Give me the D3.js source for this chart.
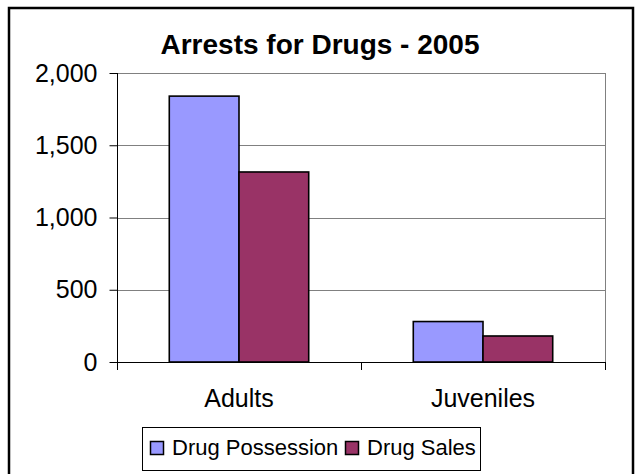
<!DOCTYPE html>
<html>
<head>
<meta charset="utf-8">
<script src="https://cdn.jsdelivr.net/npm/d3@7"></script>
<style>
  html, body { margin: 0; padding: 0; background: #fff; }
  svg { display: block; font-family: "Liberation Sans", Arial, sans-serif; }
</style>
</head>
<body>
<svg id="chart" width="635" height="474"></svg>
<script>
const title = "Arrests for Drugs - 2005";
const categories = ["Adults", "Juveniles"];
const seriesNames = ["Drug Possession", "Drug Sales"];
const possession = [1840, 280];
const sales = [1315, 180];
const yTicks = [0, 500, 1000, 1500, 2000];
const colors = ["#9999FF", "#993366"];

const seriesValues = [possession, sales];

const svg = d3.select("#chart");

// outer frame
svg.append("rect")
  .attr("x", 9).attr("y", 8).attr("width", 624).attr("height", 480)
  .attr("fill", "#fff").attr("stroke", "#000").attr("stroke-width", 2.5);

const plot = { left: 117, right: 605, top: 73, bottom: 362 };

const y = d3.scaleLinear().domain([0, 2000]).range([plot.bottom, plot.top]);
const x0 = d3.scaleBand().domain(categories).range([plot.left, plot.right]).padding(0);
const x1 = d3.scaleBand().domain(seriesNames).range([0, x0.bandwidth()])
  .paddingInner(0).paddingOuter(0.75);

// gridlines
svg.append("g").selectAll("line").data(yTicks.filter(t => t > 0)).join("line")
  .attr("x1", plot.left).attr("x2", plot.right)
  .attr("y1", d => Math.round(y(d)) + 0.5).attr("y2", d => Math.round(y(d)) + 0.5)
  .attr("stroke", "#808080").attr("stroke-width", 1);

// plot area right border
svg.append("line")
  .attr("x1", plot.right + 0.5).attr("x2", plot.right + 0.5)
  .attr("y1", plot.top).attr("y2", plot.bottom)
  .attr("stroke", "#808080").attr("stroke-width", 1);

// bars
const groups = svg.append("g").selectAll("g").data(categories).join("g")
  .attr("transform", d => `translate(${x0(d)},0)`);
groups.selectAll("rect")
  .data((c, i) => seriesNames.map((s, j) => ({ s, j, v: seriesValues[j][i] })))
  .join("rect")
  .attr("x", d => x1(d.s))
  .attr("width", x1.bandwidth())
  .attr("y", d => y(d.v))
  .attr("height", d => y(0) - y(d.v))
  .attr("fill", d => colors[d.j])
  .attr("stroke", "#000").attr("stroke-width", 1.6);

// y axis
const yAxis = d3.axisLeft(y).tickValues(yTicks).tickSize(8).tickPadding(12)
  .tickFormat(d3.format(","));
const yg = svg.append("g").attr("transform", `translate(${plot.left + 0.5},0)`).call(yAxis);
yg.select(".domain").attr("stroke", "#000").attr("d", `M0,${plot.top}V${plot.bottom + 8}`);
yg.selectAll(".tick line").attr("stroke", "#000");
yg.selectAll(".tick text").attr("fill", "#000")
  .style("font-size", "25px").style("font-family", '"Liberation Sans", Arial, sans-serif');

// x axis line
svg.append("line")
  .attr("x1", plot.left).attr("x2", plot.right + 1)
  .attr("y1", plot.bottom + 0.5).attr("y2", plot.bottom + 0.5)
  .attr("stroke", "#000").attr("stroke-width", 1);
// category boundary ticks
const bounds = categories.map(c => x0(c)).concat([x0(categories[categories.length - 1]) + x0.bandwidth()]);
svg.append("g").selectAll("line").data(bounds).join("line")
  .attr("x1", d => Math.round(d) + 0.5).attr("x2", d => Math.round(d) + 0.5)
  .attr("y1", plot.bottom).attr("y2", plot.bottom + 8)
  .attr("stroke", "#000");
// category labels
svg.append("g").selectAll("text").data(categories).join("text")
  .attr("x", d => x0(d) + x0.bandwidth() / 2)
  .attr("y", 407)
  .attr("text-anchor", "middle")
  .style("font-size", "25px")
  .attr("fill", "#000")
  .text(d => d);

// title
svg.append("text")
  .attr("x", 320).attr("y", 54)
  .attr("text-anchor", "middle")
  .style("font-size", "28px").style("font-weight", "bold")
  .attr("fill", "#000")
  .text(title);

// legend
const legend = svg.append("g");
legend.append("rect")
  .attr("x", 142.5).attr("y", 427.5).attr("width", 338).attr("height", 43)
  .attr("fill", "#fff").attr("stroke", "#000").attr("stroke-width", 1);
const legendX = [150, 345];
const items = legend.selectAll("g").data(seriesNames).join("g")
  .attr("transform", (d, i) => `translate(${legendX[i]},0)`);
items.append("rect")
  .attr("x", 0.5).attr("y", 441.5).attr("width", 13).attr("height", 13)
  .attr("fill", (d, i) => colors[i]).attr("stroke", "#000").attr("stroke-width", 1.5);
items.append("text")
  .attr("x", 22).attr("y", 455)
  .style("font-size", "22px")
  .attr("fill", "#000")
  .text(d => d);
</script>
</body>
</html>
